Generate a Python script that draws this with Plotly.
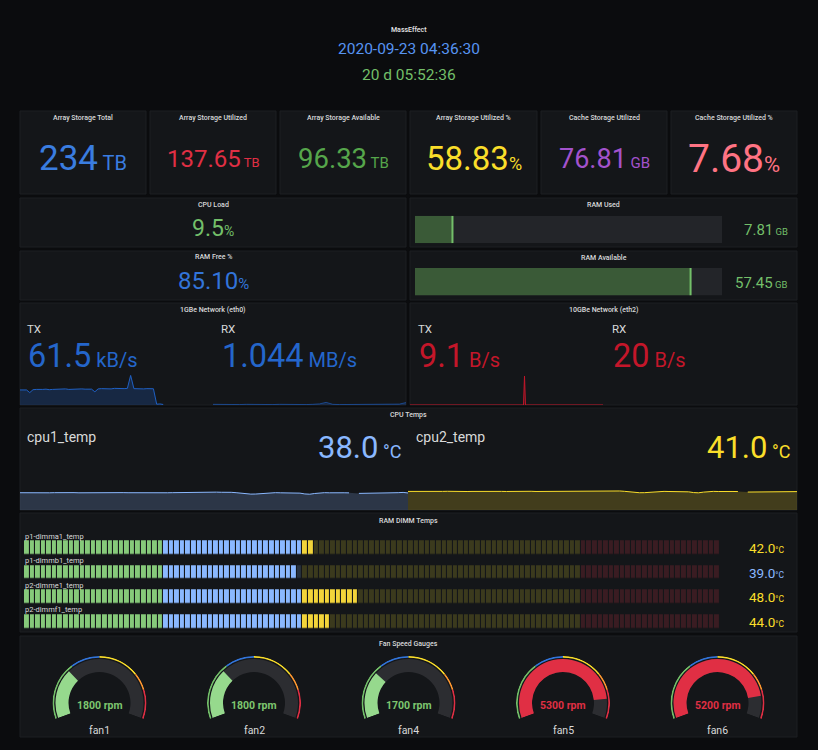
import math
import plotly.graph_objects as go

W, H = 818, 750


def fx(px):
    return px / W


def fy(py):
    return 1 - py / H


# ---------------- DATA ----------------
header_title = "MassEffect"
header_time = "2020-09-23 04:36:30"
header_uptime = "20 d 05:52:36"

stat_titles = ["Array Storage Total", "Array Storage Utilized", "Array Storage Available",
               "Array Storage Utilized %", "Cache Storage Utilized", "Cache Storage Utilized %"]
stat_values = [234, 137.65, 96.33, 58.83, 76.81, 7.68]
stat_decimals = [0, 2, 2, 2, 2, 2]
stat_units = ["TB", "TB", "TB", "%", "GB", "%"]

cpu_load_pct = 9.5
ram_free_pct = 85.10
ram_used_gb = 7.81
ram_available_gb = 57.45
ram_total_gb = 64

net_panel_titles = ["1GBe Network (eth0)", "10GBe Network (eth2)"]
net_labels = ["TX", "RX", "TX", "RX"]
net_values = [61.5, 1.044, 9.1, 20]
net_decimals = [1, 3, 1, 0]
net_units = ["kB/s", "MB/s", "B/s", "B/s"]

tx_1g_series = [57, 58, 57, 47, 58, 59, 58, 59, 60, 58, 59, 60, 59, 60, 61, 59, 60, 61, 60, 61,
                60, 61, 60, 50, 61, 62, 61, 62, 61, 63, 62, 61, 62, 63, 112, 62, 61, 62, 61, 62,
                61, 61.5, 3, 4, 2]
rx_1g_series = [0.03, 0.02, 0.03, 0.02, 0.02, 0.03, 0.02, 0.03, 0.02, 0.02, 0.03, 0.02, 0.03,
                0.02, 0.02, 0.03, 0.05, 0.12, 0.03, 0.02, 0.02, 0.03, 0.02, 0.03, 0.02, 0.02,
                0.03, 0.02, 0.04, 0.11]
tx_10g_time = [0, 70, 70.6, 71.2, 119]
tx_10g_series = [0, 0, 28, 0, 0]

cpu_names = ["cpu1_temp", "cpu2_temp"]
cpu_current = [38.0, 41.0]
cpu1_series = [38.5, 38.2, 38.6, 38.4, 38.8, 38.5, 38.3, 38.6, 38.9, 38.4,
               38.6, 38.7, 38.3, 38.5, 38.8, 38.4, 38.6, 38.5, 38.2, 38.6,
               38.4, 38.7, 38.5, 38.3, 38.6, 38.8, 38.4, 38.5, 38.7, 38.6,
               38.4, 38.6, 38.9, 38.7, 38.5, 38.6, 38.8, 39.0, 39.3, 39.6,
               39.8, 39.5, 39.9, 39.4, 38.6, 37.2, 35.8, 35.4, 35.6, 36.4,
               38.2, 38.4, 38.6, 38.3, 38.5, 38.2, 38.0, 37.6, 35.8, 35.2,
               36.8, 38.4, 38.6, 38.3, 38.7, 38.5, 38.4, 38.2, None, 37.0,
               37.2, 36.9, 37.1, 37.0, 37.2, 36.8, 37.1, 38.6, 39.2, 38.0]
cpu2_series = [41.4, 41.2, 41.5, 41.3, 41.6, 41.4, 41.2, 41.5, 41.7, 41.3,
               41.5, 41.6, 41.2, 41.4, 41.7, 41.3, 41.5, 41.4, 41.2, 41.5,
               41.3, 41.6, 41.4, 41.2, 41.5, 41.7, 41.3, 41.4, 41.6, 41.5,
               41.3, 41.5, 41.8, 41.6, 41.4, 41.5, 41.7, 42.0, 42.3, 42.6,
               42.8, 42.5, 42.9, 42.4, 41.6, 40.2, 38.8, 38.5, 38.6, 39.4,
               41.1, 41.3, 41.5, 41.2, 41.4, 41.1, 40.9, 40.5, 38.8, 38.3,
               39.8, 41.3, 41.5, 41.2, 41.6, 41.4, 41.3, 41.1, None, 40.0,
               40.2, 39.9, 40.1, 40.0, 40.2, 39.8, 40.1, 41.5, 42.0, 41.0]

dimm_names = ["p1-dimma1_temp", "p1-dimmb1_temp", "p2-dimme1_temp", "p2-dimmf1_temp"]
dimm_values = [42.0, 39.0, 48.0, 44.0]
dimm_min, dimm_max, dimm_cells = 0, 100, 125
dimm_thresholds = [0, 20, 40, 80]

fan_names = ["fan1", "fan2", "fan4", "fan5", "fan6"]
fan_rpm = [1800, 1800, 1700, 5300, 5200]
fan_min, fan_max = 0, 6000
fan_thresholds = [0, 2000, 3000, 4400, 5000]

# ---------------- STYLE ----------------
PAGE_BG = "#0b0c0e"
PANEL_BG = "#141619"
PANEL_LINE = "#1c1e23"
TITLE_C = "#d8d9da"
FONT = "Roboto"

shapes = []
annotations = []
layout_extra = {}
traces = []


def label(x, y, s, size, color, xanchor="center", weight=400):
    annotations.append(dict(xref="paper", yref="paper", x=fx(x), y=fy(y), text=s,
                            showarrow=False, xanchor=xanchor, yanchor="middle", borderpad=0,
                            font=dict(family=FONT, size=size, color=color, weight=weight)))


def panel(x0, y0, x1, y1, title=None, ty=None):
    shapes.append(dict(type="rect", xref="paper", yref="paper", x0=fx(x0), x1=fx(x1),
                       y0=fy(y1), y1=fy(y0), fillcolor=PANEL_BG,
                       line=dict(color=PANEL_LINE, width=1), layer="below"))
    if title:
        label((x0 + x1) / 2, ty, title, 7, TITLE_C, weight=500)


def vu(num, unit, usize, sep=" "):
    return f"{num}<span style='font-size:{usize}px'>{sep}{unit}</span>"


def axis_pair(n, x0, x1, y0, y1, xr, yr):
    xs = "xaxis" if n == 1 else f"xaxis{n}"
    ys = "yaxis" if n == 1 else f"yaxis{n}"
    xref = "x" if n == 1 else f"x{n}"
    yref = "y" if n == 1 else f"y{n}"
    layout_extra[xs] = dict(domain=[fx(x0), fx(x1)], range=xr, visible=False,
                            fixedrange=True, anchor=yref)
    layout_extra[ys] = dict(domain=[fy(y1), fy(y0)], range=yr, visible=False,
                            fixedrange=True, anchor=xref)
    return xref, yref


# ---------------- HEADER ----------------
label(409, 30, header_title, 7, "#e6e6e6", weight=500)
label(409, 49, header_time, 15.5, "#5794f2")
label(409, 75, header_uptime, 15.5, "#73bf69")

# ---------------- ROW 1: stats ----------------
stat_x = [(20, 146), (150, 276), (280, 406), (410, 537), (541, 667), (671, 797)]
stat_colors = ["#3a7de0", "#e02f44", "#56a64b", "#fade2a", "#a352cc", "#ff7383"]
stat_sizes = [35, 24, 27.5, 33, 27, 39]
for i, (x0, x1) in enumerate(stat_x):
    panel(x0, 111, x1, 194, stat_titles[i], 118)
    num = f"{stat_values[i]:.{stat_decimals[i]}f}"
    unit = stat_units[i]
    sep = "" if unit == "%" else " "
    label((x0 + x1) / 2, 158.5, vu(num, unit, round(stat_sizes[i] * 0.56), sep),
          stat_sizes[i], stat_colors[i])

# ---------------- ROW 2 ----------------
panel(20, 198, 406, 247, "CPU Load", 205)
label(213, 228.5, vu(f"{cpu_load_pct:.1f}", "%", 14, ""), 23, "#73bf69")
panel(20, 251, 406, 300, "RAM Free %", 257)
label(213, 281, vu(f"{ram_free_pct:.2f}", "%", 15, ""), 24, "#3274d9")

ram_rows = [("RAM Used", ram_used_gb, 198, 247, 215.7, 243.3, 229.5, 6),
            ("RAM Available", ram_available_gb, 251, 300, 268, 295.5, 282.5, 7)]
for title, val, py0, py1, by0, by1, ty, n in ram_rows:
    panel(410, py0, 797, py1, title, py0 + 7)
    xr, yr = axis_pair(n, 415, 722, by0, by1, [0, ram_total_gb], [-0.5, 0.5])
    traces.append(go.Bar(x=[ram_total_gb], y=[0], orientation="h", width=1,
                         marker=dict(color="#232529", line=dict(width=0)),
                         xaxis=xr, yaxis=yr, hoverinfo="skip"))
    traces.append(go.Bar(x=[val], y=[0], orientation="h", width=1,
                         marker=dict(color="#3a5a37", line=dict(width=0)),
                         xaxis=xr, yaxis=yr, hoverinfo="skip"))
    traces.append(go.Scatter(x=[val, val], y=[-0.5, 0.5], mode="lines",
                             line=dict(color="#73bf69", width=2),
                             xaxis=xr, yaxis=yr, hoverinfo="skip"))
    label(789, ty, vu(f"{val:.2f}", "GB", 9.5), 15, "#73bf69", xanchor="right")

# ---------------- NETWORK ----------------
panel(20, 303, 406, 405, net_panel_titles[0], 310)
panel(410, 303, 797, 405, net_panel_titles[1], 310)
net_x = [26, 220, 417, 611]
net_colors = ["#2466cb", "#2466cb", "#c4162a", "#c4162a"]
for i in range(4):
    label(net_x[i], 329, net_labels[i], 11.5, TITLE_C, xanchor="left")
    num = f"{net_values[i]:.{net_decimals[i]}f}"
    label(net_x[i] + 1, 356, vu(num, net_units[i], 20), 32.5, net_colors[i], xanchor="left")

xr, yr = axis_pair(1, 20, 212, 372, 405, [0, 59], [0, 125])
traces.append(go.Scatter(x=list(range(len(tx_1g_series))), y=tx_1g_series, mode="lines",
                         line=dict(color="#1f60c4", width=1), fill="tozeroy",
                         fillcolor="rgba(31,96,196,0.25)", xaxis=xr, yaxis=yr, hoverinfo="skip"))
xr, yr = axis_pair(2, 213, 406, 372, 405, [0, 29], [0, 1.5])
traces.append(go.Scatter(x=list(range(len(rx_1g_series))), y=rx_1g_series, mode="lines",
                         line=dict(color="rgba(31,96,196,0.6)", width=1), fill="tozeroy",
                         fillcolor="rgba(31,96,196,0.25)", xaxis=xr, yaxis=yr, hoverinfo="skip"))
xr, yr = axis_pair(3, 410, 603, 372, 405, [0, 119], [0, 32])
traces.append(go.Scatter(x=tx_10g_time, y=tx_10g_series, mode="lines",
                         line=dict(color="#c4162a", width=1), fill="tozeroy",
                         fillcolor="rgba(196,22,42,0.2)", xaxis=xr, yaxis=yr, hoverinfo="skip"))

# ---------------- CPU TEMPS ----------------
panel(20, 408, 797, 510, "CPU Temps", 415)
cpu_cols = [("#8ab8ff", "rgba(138,184,255,0.2)"), ("#fade2a", "rgba(250,222,42,0.2)")]
cpu_sections = [(20, 408), (408, 797)]
for i, series in enumerate([cpu1_series, cpu2_series]):
    x0, x1 = cpu_sections[i]
    xr, yr = axis_pair(4 + i, x0, x1, 475, 510, [0, len(series) - 1], [0, 78])
    traces.append(go.Scatter(x=list(range(len(series))), y=series, mode="lines",
                             line=dict(color=cpu_cols[i][0], width=1), fill="tozeroy",
                             fillcolor=cpu_cols[i][1], connectgaps=False,
                             xaxis=xr, yaxis=yr, hoverinfo="skip"))
    label(x0 + 6 + (1 if i else 0), 437, cpu_names[i], 14, TITLE_C, xanchor="left")
    label(x1 - 6, 447, vu(f"{cpu_current[i]:.1f}", "°C", 18), 31, cpu_cols[i][0],
          xanchor="right")

# ---------------- RAM DIMM TEMPS ----------------
panel(20, 513, 797, 632, "RAM DIMM Temps", 521)
lit_cols = ["#86c97a", "#8ab8ff", "#f2d43a", "#f2495c"]
dim_cols = ["#243226", "#28323f", "#3b3a1d", "#3a1c22"]
text_cols = ["#73bf69", "#8ab8ff", "#fade2a", "#f2495c"]
step = (dimm_max - dimm_min) / dimm_cells
centers = [dimm_min + (k + 0.5) * step for k in range(dimm_cells)]


def thr_index(v, thresholds):
    idx = 0
    for k, t in enumerate(thresholds):
        if v >= t:
            idx = k
    return idx


z = []
for val in dimm_values:
    z.append([thr_index(c, dimm_thresholds) + (0 if c < val else 4) for c in centers])
all_cols = lit_cols + dim_cols
cscale = []
for k, c in enumerate(all_cols):
    cscale.append([k / 8, c])
    cscale.append([(k + 1) / 8, c])
xr, yr = axis_pair(8, 24, 720, 535.2, 633.8, [dimm_min, dimm_max], [3.5, -0.5])
traces.append(go.Heatmap(x=centers, y=list(range(len(dimm_values))), z=z, zmin=-0.5, zmax=7.5,
                         colorscale=cscale, showscale=False, xgap=1.1, ygap=11.3,
                         xaxis=xr, yaxis=yr, hoverinfo="skip"))
name_y = [536, 560.7, 585.3, 609.8]
val_y = [547.5, 572.5, 597, 622]
for i, nm in enumerate(dimm_names):
    label(24, name_y[i], nm, 7.5, TITLE_C, xanchor="left")
    col = text_cols[thr_index(dimm_values[i], dimm_thresholds)]
    label(786, val_y[i], vu(f"{dimm_values[i]:.1f}", "°C", 8.5, ""), 13.5, col, xanchor="right")

# ---------------- FAN GAUGES ----------------
panel(20, 636, 797, 737, "Fan Speed Gauges", 644)
ring_cols = ["#73bf69", "#3274d9", "#fade2a", "#ff9830", "#e02f44"]
fill_cols = ["#96d98d", "#3274d9", "#fade2a", "#ff9830", "#e02f44"]
txt_cols = ["#7ec66f", "#3274d9", "#fade2a", "#ff9830", "#e02f44"]
START, END = 200, -20
SPAN = START - END
R = 47
CY = 703
scale = SPAN / (fan_max - fan_min)
below = R * math.sin(math.radians(-END))
for i, name in enumerate(fan_names):
    cx = 99.5 + 154.5 * i
    pk = "polar" if i == 0 else f"polar{i + 1}"
    layout_extra[pk] = dict(
        domain=dict(x=[fx(cx - R), fx(cx + R)], y=[fy(CY + below), fy(CY - R)]),
        sector=[END, START], bgcolor="rgba(0,0,0,0)", barmode="overlay",
        radialaxis=dict(visible=False, range=[0, R]),
        angularaxis=dict(visible=False, rotation=START, direction="clockwise"))
    # background arc
    traces.append(go.Barpolar(theta=[SPAN / 2], width=[SPAN], base=[31], r=[13],
                              marker=dict(color="#2c2d31", line=dict(width=0)),
                              subplot=pk, hoverinfo="skip"))
    # value arc
    ang = (fan_rpm[i] - fan_min) * scale
    k = thr_index(fan_rpm[i], fan_thresholds)
    traces.append(go.Barpolar(theta=[ang / 2], width=[ang], base=[31], r=[13],
                              marker=dict(color=fill_cols[k], line=dict(width=0)),
                              subplot=pk, hoverinfo="skip"))
    # threshold ring
    bounds = fan_thresholds + [fan_max]
    for j in range(len(fan_thresholds)):
        a0 = (bounds[j] - fan_min) * scale
        a1 = (bounds[j + 1] - fan_min) * scale
        traces.append(go.Barpolar(theta=[(a0 + a1) / 2], width=[a1 - a0], base=[45.3], r=[1.7],
                                  marker=dict(color=ring_cols[j], line=dict(width=0)),
                                  subplot=pk, hoverinfo="skip"))
    label(cx, 705, f"{fan_rpm[i]} rpm", 10.5, txt_cols[k], weight=700)
    label(cx, 730, name, 10.5, TITLE_C)

fig = go.Figure(data=traces)
fig.update_layout(width=W, height=H, margin=dict(l=0, r=0, t=0, b=0),
                  paper_bgcolor=PAGE_BG, plot_bgcolor="rgba(0,0,0,0)",
                  showlegend=False, barmode="overlay", hovermode=False, dragmode=False,
                  shapes=shapes, annotations=annotations, **layout_extra)
fig.write_html("out.html", config={"displayModeBar": False, "staticPlot": True})
